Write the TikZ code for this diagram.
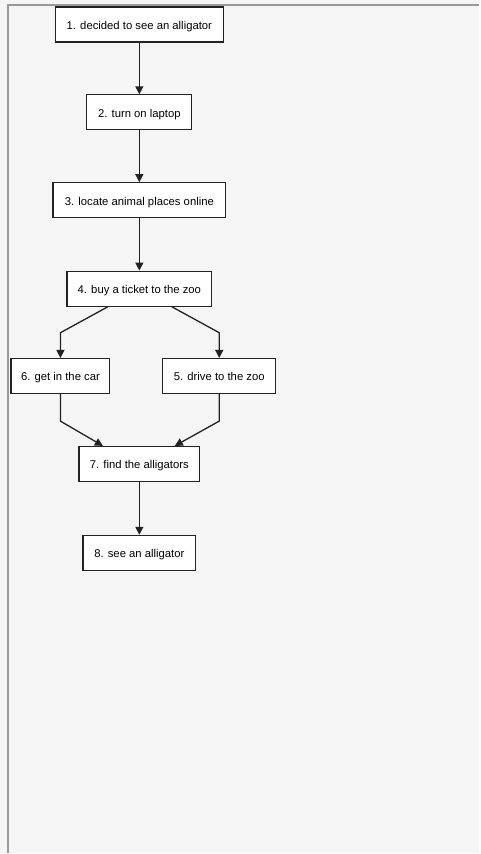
\documentclass[tikz,border=0pt]{standalone}
\usepackage{fontspec}
\setmainfont{Liberation Sans}
\usepackage{xcolor}
\usetikzlibrary{arrows.meta}
\definecolor{bgcol}{HTML}{F5F5F5}
\definecolor{framecol}{HTML}{999999}
\definecolor{linecol}{HTML}{222222}

\begin{document}
\begin{tikzpicture}[x=1pt,y=-1pt]
    \tikzstyle{stepbox} = [rectangle, draw=linecol, fill=white, line width=1.2pt, minimum height=35pt, inner sep=0pt, text height=11pt, text depth=1.3pt, font=\fontsize{11.3}{13}\selectfont]
    \tikzstyle{arr} = [draw=linecol, line width=1.3pt, -{Triangle[length=8pt,width=8pt]}]
    \fill[bgcol] (0,0) rectangle (480,854);
    \draw[framecol, line width=2pt] (8,854) -- (8,5) -- (480,5);
    % steps
    \node[stepbox, minimum width=168pt] (n1) at (139.5,24.5) {1. decided to see an alligator};
    \node[stepbox, minimum width=105pt] (n2) at (139.5,112.5) {2. turn on laptop};
    \node[stepbox, minimum width=173pt] (n3) at (139.5,200.5) {3. locate animal places online};
    \node[stepbox, minimum width=145pt] (n4) at (139.5,289) {4. buy a ticket to the zoo};
    \node[stepbox, minimum width=99pt] (n6) at (60.5,376.5) {6. get in the car};
    \node[stepbox, minimum width=113pt] (n5) at (219.5,376.5) {5. drive to the zoo};
    \node[stepbox, minimum width=121pt] (n7) at (139.5,464.5) {7. find the alligators};
    \node[stepbox, minimum width=113pt] (n8) at (139.5,553.5) {8. see an alligator};
    \foreach \a/\b in {n1/n2, n2/n3, n3/n4, n7/n8} {
        \draw[arr] (\a) -- (\b);
    }
    \draw[arr] ([xshift=-31.5pt]n4.south) -- ([yshift=-26pt]n4.south -| n6) -- (n6);
    \draw[arr] ([xshift=32.5pt]n4.south) -- ([yshift=-26pt]n4.south -| n5) -- (n5);
    \draw[arr] (n6.south) -- ++(0,27) -- ([xshift=-36.5pt]n7.north);
    \draw[arr] (n5.south) -- ++(0,27) -- ([xshift=35.5pt]n7.north);
\end{tikzpicture}
\end{document}
